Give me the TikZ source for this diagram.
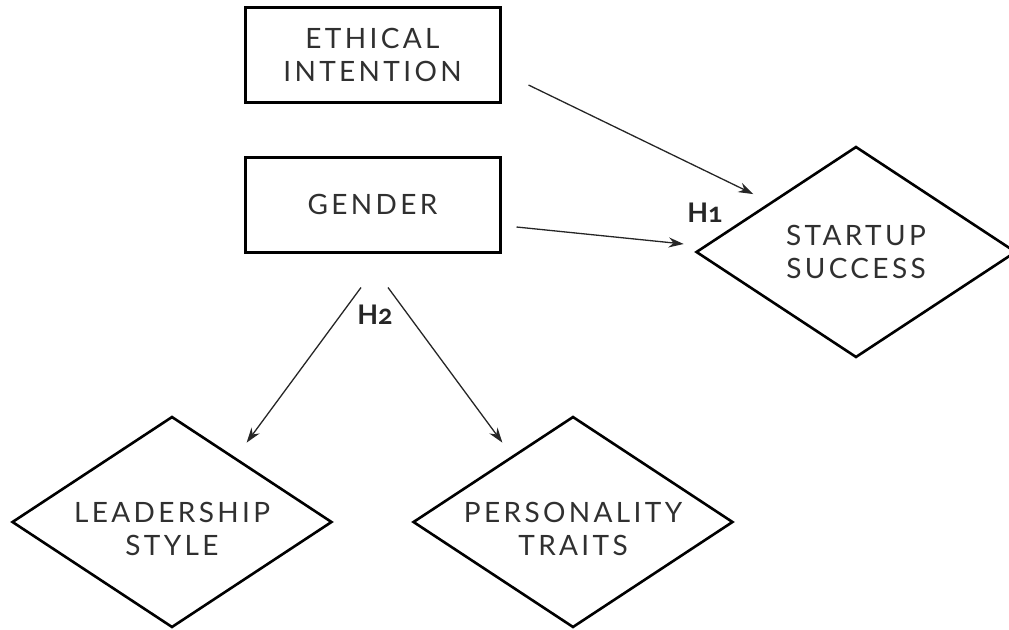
\documentclass[tikz,border=0pt]{standalone}
\usepackage{fontspec}
\setmainfont{Lato}[LetterSpace=12]
\newfontfamily\hfont{Lato}[Numbers=OldStyle]
\usetikzlibrary{shapes.geometric,arrows.meta}
\definecolor{txt}{HTML}{303030}
\tikzset{
  box/.style={draw=black, line width=3pt, minimum width=255pt, minimum height=95pt, inner sep=0pt,
    align=center, text=txt, font=\fontsize{28}{33}\selectfont},
  dia/.style={draw=black, line width=2.6pt, diamond, minimum width=320pt, minimum height=211pt, inner sep=0pt},
  dlab/.style={align=center, text=txt, font=\fontsize{28}{33}\selectfont, inner sep=0pt},
  arr/.style={draw=black!85, line width=1.3pt, -{Stealth[length=15pt,width=10pt]}},
  hlab/.style={font=\hfont\bfseries\fontsize{27}{30}\selectfont, text=black!85, inner sep=0pt}
}
\begin{document}
\begin{tikzpicture}[x=1pt,y=-1pt]
\useasboundingbox (0,0) rectangle (1009,629);
\node[box] (ethical) at (372.5,54.5) {ETHICAL\\INTENTION};
\node[box] (gender) at (372.5,204.5) {GENDER};
\node[dia, label={[dlab]center:STARTUP\\SUCCESS}] (startup) at (856,252) {};
\node[dia, label={[dlab, yshift=-7pt]center:LEADERSHIP\\STYLE}] (lead) at (172,522) {};
\node[dia, label={[dlab, yshift=-7pt]center:PERSONALITY\\TRAITS}] (pers) at (573,522) {};
\draw[arr] ([shift={(27,30.5)}]ethical.east) -- ([shift={(-22,-4.5)}]startup.north west);
\draw[arr] ([shift={(15,22.5)}]gender.east) -- ([shift={(-11,-8)}]startup.west);
\draw[arr] ([shift={(-11.5,34)}]gender.south) -- ([shift={(-6,-26)}]lead.north east);
\draw[arr] ([shift={(15.5,34)}]gender.south) -- ([shift={(10,-26)}]pers.north west);
\node[hlab] (h1) at (705,213) {H1};
\node[hlab] (h2) at (375,315) {H2};
\end{tikzpicture}
\end{document}
